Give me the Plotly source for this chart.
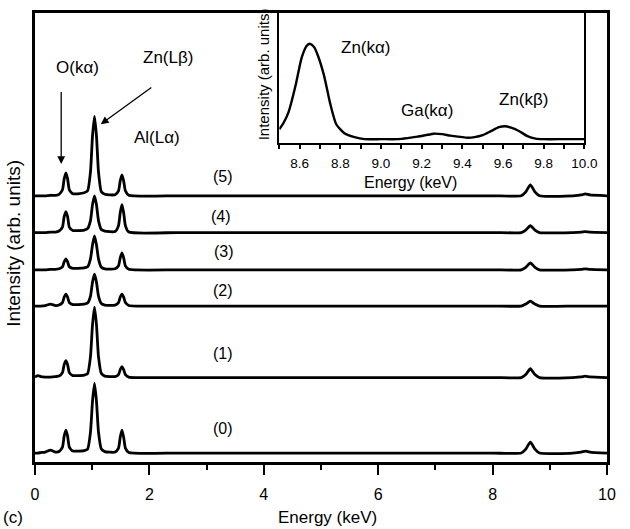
import plotly.graph_objects as go

# ---------------- data ----------------
SERIES = ["(0)", "(1)", "(2)", "(3)", "(4)", "(5)"]
OFFSETS = [9, 85, 157, 193.5, 231, 268]   # vertical stacking of spectra (arb. units)

E_MAIN = [0.00, 0.05, 0.10, 0.18, 0.27, 0.36, 0.42, 0.48, 0.51, 0.54, 0.57, 0.60, 0.66,
          0.75, 0.86, 0.92, 0.97, 1.005, 1.04, 1.075, 1.11, 1.16, 1.22, 1.40, 1.46, 1.49,
          1.52, 1.55, 1.58, 1.64, 2.5, 4.0, 6.0, 8.0, 8.50, 8.58, 8.66, 8.74, 8.82,
          9.40, 9.55, 9.62, 9.70, 10.0]

I0 = [0, 0, 0.5, 1, 3, 1, 1.5, 6, 17, 23, 17, 6, 2,
      2, 2.5, 4, 21, 52, 70, 52, 21, 4, 1.5, 1, 5, 16,
      23, 16, 5, 0.5, 0, 0, 0, 0, 0, 4, 11, 4, 0,
      0, 1, 2, 1, 0]
I1 = [0.5, 2, 1, 0.5, 0.5, 1, 1.5, 5, 13, 17, 13, 5, 2,
      2, 2.5, 4, 21, 53, 71, 53, 21, 4, 1.5, 1, 3, 8,
      11, 8, 3, 0.5, 0, 0, 0, 0, 0, 3, 9, 3, 0,
      0, 0.6, 1.5, 0.6, 0]
I2 = [0, 0, 0, 0.5, 2, 0.5, 1, 3.5, 9, 12, 9, 3.5, 1.5,
      1.5, 2, 3, 10, 24, 32, 24, 10, 2.5, 1, 1, 3.5, 9,
      12, 9, 3.5, 0.5, 0, 0, 0, 0, 0, 2, 5, 2, 0,
      0, 0, 0, 0, 0]
I3 = [0, 0, 0, 0, 0.5, 0.5, 1, 3, 8, 11, 8, 3, 1.5,
      1.5, 2, 3, 11, 25, 34, 25, 11, 2.5, 1, 1, 4, 12,
      17, 12, 4, 0.5, 0, 0, 0, 0, 0, 2.5, 7, 2.5, 0,
      0, 0.4, 1, 0.4, 0]
I4 = [0, 0, 0, 0, 0.5, 0.5, 1.5, 5.5, 16, 21, 16, 5.5, 2,
      2, 2.5, 4, 12, 28, 37, 28, 12, 3, 1.5, 1, 7, 20,
      28, 20, 7, 0.5, 0, 0, 0, 0, 0, 2.5, 7, 2.5, 0,
      0, 0.4, 1, 0.4, 0]
I5 = [0, 0, 0, 0, 0.5, 0.5, 1.5, 6, 17, 23, 17, 6, 2,
      2, 3, 5, 24, 60, 80, 60, 24, 4, 1.5, 1, 5, 15,
      21, 15, 5, 0.5, 0, 0, 0, 0, 0, 4, 11, 4, 0,
      0, 0.8, 2, 0.8, 0]
INTENSITIES = [I0, I1, I2, I3, I4, I5]

E_INSET = [8.50, 8.52, 8.545, 8.58, 8.61, 8.635, 8.65, 8.67, 8.69, 8.72, 8.75, 8.78,
           8.82, 8.87, 8.92, 9.00, 9.08, 9.13, 9.18, 9.22, 9.26, 9.30, 9.34, 9.38,
           9.42, 9.46, 9.50, 9.54, 9.58, 9.61, 9.64, 9.68, 9.72, 9.76, 9.80, 9.90, 10.0]
I_INSET = [14, 20, 31, 58, 86, 98, 100, 97, 88, 68, 40, 19,
           10, 6, 4, 4, 4, 5, 6.5, 8, 9.5, 9, 7.5, 6.5,
           5.5, 6, 8, 12, 16, 17, 15.5, 12, 7, 4.5, 4, 4, 4]

MAIN_TICKS = [0, 2, 4, 6, 8, 10]
INSET_TICKS = [8.6, 8.8, 9.0, 9.2, 9.4, 9.6, 9.8, 10.0]
INSET_TICKTEXT = ["8.6", "8.8", "9.0", "9.2", "9.4", "9.6", "9.8", "10.0"]

FONT = "Liberation Sans, Arial, Helvetica, sans-serif"

fig = go.Figure()
for name, off, vals in zip(SERIES, OFFSETS, INTENSITIES):
    fig.add_trace(go.Scatter(
        x=E_MAIN, y=[v + off for v in vals], mode="lines", name=name,
        line=dict(color="black", width=2.8, shape="spline", smoothing=0.5),
        xaxis="x", yaxis="y", showlegend=False))

fig.add_trace(go.Scatter(
    x=E_INSET, y=I_INSET, mode="lines", name="inset",
    line=dict(color="black", width=2.4, shape="spline", smoothing=0.6),
    xaxis="x2", yaxis="y2", showlegend=False))


def txt(x, y, text, size, xref="x", yref="y", angle=0):
    return dict(x=x, y=y, xref=xref, yref=yref, text=text, showarrow=False,
                xanchor="center", yanchor="middle", textangle=angle,
                font=dict(size=size, family=FONT, color="black"))


ann = []
label_x = [3.28, 3.29, 3.29, 3.31, 3.26, 3.29]
label_y = [34, 109, 173, 212, 247, 287]
for name, lx, ly in zip(SERIES, label_x, label_y):
    ann.append(txt(lx, ly, name, 16))

ann += [
    txt(0.74, 397, "O(kα)", 17),
    txt(2.32, 407, "Zn(Lβ)", 17),
    txt(2.14, 327, "Al(Lα)", 17),
    dict(x=0.458, y=300, ax=0.458, ay=374, xref="x", yref="y", axref="x", ayref="y",
         text="", showarrow=True, arrowhead=2, arrowsize=1.2, arrowwidth=1.3, arrowcolor="black"),
    dict(x=1.15, y=340, ax=2.06, ay=378, xref="x", yref="y", axref="x", ayref="y",
         text="", showarrow=True, arrowhead=2, arrowsize=1.2, arrowwidth=1.3, arrowcolor="black"),
    txt(8.925, 96, "Zn(kα)", 17, "x2", "y2"),
    txt(9.228, 33, "Ga(kα)", 17, "x2", "y2"),
    txt(9.70, 44, "Zn(kβ)", 17, "x2", "y2"),
    txt(0.511, -0.124, "Energy (keV)", 17, "paper", "paper"),
    txt(-0.0377, -0.124, "(c)", 17, "paper", "paper"),
    txt(-0.0377, 0.487, "Intensity (arb. units)", 19, "paper", "paper", -90),
    txt(0.657, 0.622, "Energy (keV)", 16, "paper", "paper"),
    txt(0.40, 0.863, "Intensity (arb. units)", 15, "paper", "paper", -90),
]

fig.update_layout(
    width=630, height=529,
    margin=dict(l=35, r=12, t=10, b=67),
    paper_bgcolor="white", plot_bgcolor="white",
    font=dict(family=FONT, color="black"),
    showlegend=False,
    annotations=ann,
    xaxis=dict(range=[0, 10], tickvals=MAIN_TICKS, ticks="outside", ticklen=10, tickwidth=2,
               tickcolor="black", minor=dict(dtick=1, ticks="outside", ticklen=5, tickwidth=2,
                                             tickcolor="black"),
               showline=True, linewidth=3, linecolor="black", mirror=True,
               showgrid=False, zeroline=False, tickfont=dict(size=16, family=FONT),
               ticklabelstandoff=6),
    yaxis=dict(range=[0, 452], showticklabels=False, ticks="", showline=True, linewidth=3,
               linecolor="black", mirror=True, showgrid=False, zeroline=False),
    xaxis2=dict(domain=[0.4271, 0.9605], anchor="y2", range=[8.5, 10.0],
                tickvals=INSET_TICKS, ticktext=INSET_TICKTEXT,
                ticks="outside", ticklen=4, tickwidth=2, tickcolor="black",
                minor=dict(dtick=0.1, tick0=8.5, ticks="outside", ticklen=4, tickwidth=2,
                           tickcolor="black"),
                showline=True, linewidth=2, linecolor="black", mirror=True,
                showgrid=False, zeroline=False, tickfont=dict(size=13.5, family=FONT),
                ticklabelstandoff=3),
    yaxis2=dict(domain=[0.7102, 1.0], anchor="x2", range=[0, 131], showticklabels=False,
                ticks="", showline=True, linewidth=2, linecolor="black", mirror=True,
                showgrid=False, zeroline=False),
)

fig.write_html("out.html", config={"displayModeBar": False},
               post_script="document.body.style.margin='0';document.body.style.overflow='hidden';")
